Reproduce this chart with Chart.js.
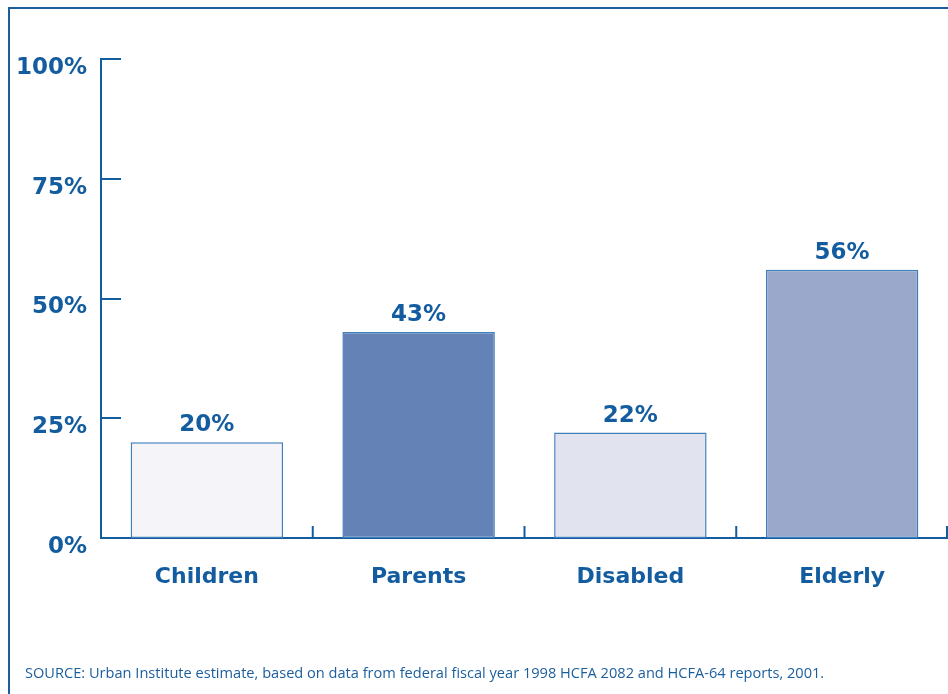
<!DOCTYPE html>
<html>
<head>
<meta charset="utf-8">
<script src="https://cdn.jsdelivr.net/npm/chart.js@4.4.0/dist/chart.umd.min.js"></script>
<style>
  html, body { margin: 0; padding: 0; background: #ffffff; }
  #wrap { position: relative; width: 948px; height: 694px; overflow: hidden; }
  #frame { position: absolute; left: 8px; top: 7px; width: 960px; height: 700px;
           border-left: 2px solid #1b5e9e; border-top: 2px solid #1b5e9e; box-sizing: border-box; }
  #cv { position: absolute; left: 0; top: 0; }
  #source { position: absolute; left: 25px; top: 662px; font-family: "Open Sans", sans-serif;
            font-size: 14.6px; color: #1b5e9e; white-space: nowrap; letter-spacing: 0px; }
</style>
</head>
<body>
<div id="wrap">
  <div id="frame"></div>
  <canvas id="cv" width="948" height="694"></canvas>
  <div id="source">SOURCE: Urban Institute estimate, based on data from federal fiscal year 1998 HCFA 2082 and HCFA-64 reports, 2001.</div>
</div>
<script>
const categories = ["Children", "Parents", "Disabled", "Elderly"];
const values = [20, 43, 22, 56];
const valueLabels = ["20%", "43%", "22%", "56%"];
const yTicks = [0, 25, 50, 75, 100];
const barColors = ["#f4f4f9", "#6482b5", "#e1e4ef", "#9aa8cb"];

const BLUE = "#135c9f";
const FONT = "'DejaVu Sans', sans-serif";

const innerTicks = {
  id: "innerTicks",
  afterDatasetsDraw(chart) {
    const ctx = chart.ctx;
    const x = chart.scales.x, y = chart.scales.y;
    const area = chart.chartArea;
    ctx.save();
    ctx.strokeStyle = BLUE;
    ctx.lineWidth = 2;
    yTicks.forEach(v => {
      const py = Math.round(y.getPixelForValue(v));
      ctx.beginPath();
      ctx.moveTo(area.left, py);
      ctx.lineTo(area.left + 20, py);
      ctx.stroke();
    });
    for (let i = 1; i <= categories.length; i++) {
      let px;
      if (i < categories.length) px = (x.getPixelForValue(i - 1) + x.getPixelForValue(i)) / 2;
      else px = x.getPixelForValue(i - 1) + (x.getPixelForValue(i - 1) - x.getPixelForValue(i - 2)) / 2 - 1;
      ctx.beginPath();
      ctx.moveTo(px, area.bottom);
      ctx.lineTo(px, area.bottom - 12);
      ctx.stroke();
    }
    const meta = chart.getDatasetMeta(0);
    ctx.fillStyle = BLUE;
    ctx.font = "bold 23px " + FONT;
    ctx.textAlign = "center";
    ctx.textBaseline = "middle";
    meta.data.forEach((bar, i) => {
      ctx.fillText(valueLabels[i], bar.x, bar.y - 17);
    });
    ctx.restore();
  }
};

new Chart(document.getElementById("cv"), {
  type: "bar",
  data: {
    labels: categories,
    datasets: [{
      data: values,
      backgroundColor: barColors,
      borderColor: "#3f7fbc",
      borderWidth: 1.5,
      borderSkipped: false,
      categoryPercentage: 1,
      barPercentage: 0.72
    }]
  },
  options: {
    responsive: false,
    animation: false,
    devicePixelRatio: 1,
    layout: { padding: { top: 59, right: 0, left: 0, bottom: 0 } },
    plugins: { legend: { display: false }, tooltip: { enabled: false } },
    scales: {
      x: {
        grid: { display: false, drawTicks: false },
        border: { display: true, color: BLUE, width: 2 },
        ticks: { color: BLUE, font: { family: FONT, size: 22, weight: "bold" }, padding: 26 },
        afterFit(s) { s.height = 156; }
      },
      y: {
        min: 0, max: 100,
        afterBuildTicks(s) { s.ticks = yTicks.map(v => ({ value: v })); },
        grid: { display: false, drawTicks: false },
        border: { display: true, color: BLUE, width: 2 },
        ticks: {
          color: BLUE, font: { family: FONT, size: 23, weight: "bold" },
          padding: 14, labelOffset: 9,
          callback: v => v + "%"
        },
        afterFit(s) { s.width = 101; }
      }
    }
  },
  plugins: [innerTicks]
});
</script>
</body>
</html>
